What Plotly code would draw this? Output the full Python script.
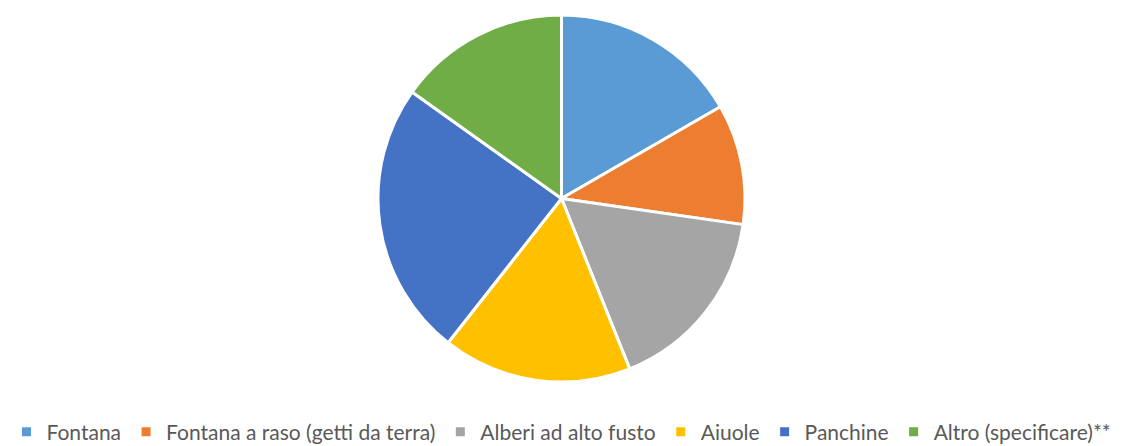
import plotly.graph_objects as go

categories = ["Fontana", "Fontana a raso (getti da terra)", "Alberi ad alto fusto",
              "Aiuole", "Panchine", "Altro (specificare)**"]
values = [11, 7, 11, 11, 16, 10]
colors = ["#5B9BD5", "#ED7D31", "#A5A5A5", "#FFC000", "#4472C4", "#70AD47"]

W, H = 1123, 446
fig = go.Figure(go.Pie(
    labels=categories, values=values, sort=False, direction="clockwise", rotation=0,
    marker=dict(colors=colors, line=dict(color="white", width=3)),
    textinfo="none", hoverinfo="label+value+percent",
    domain=dict(x=[0, 1], y=[(H - 382) / H, (H - 15) / H]),
))
fig.update_layout(
    width=W, height=H,
    margin=dict(l=0, r=0, t=0, b=0, autoexpand=False),
    paper_bgcolor="white", plot_bgcolor="white",
    font=dict(family="Lato", size=21, color="#595959"),
    legend=dict(orientation="h", x=0.5, xanchor="center", y=-0.015, yanchor="bottom",
                itemwidth=30, font=dict(family="Lato", size=21, color="#595959"),
                tracegroupgap=0),
)
fig.write_html("out.html", config={"displayModeBar": False},
               post_script="document.body.style.margin='0';")
